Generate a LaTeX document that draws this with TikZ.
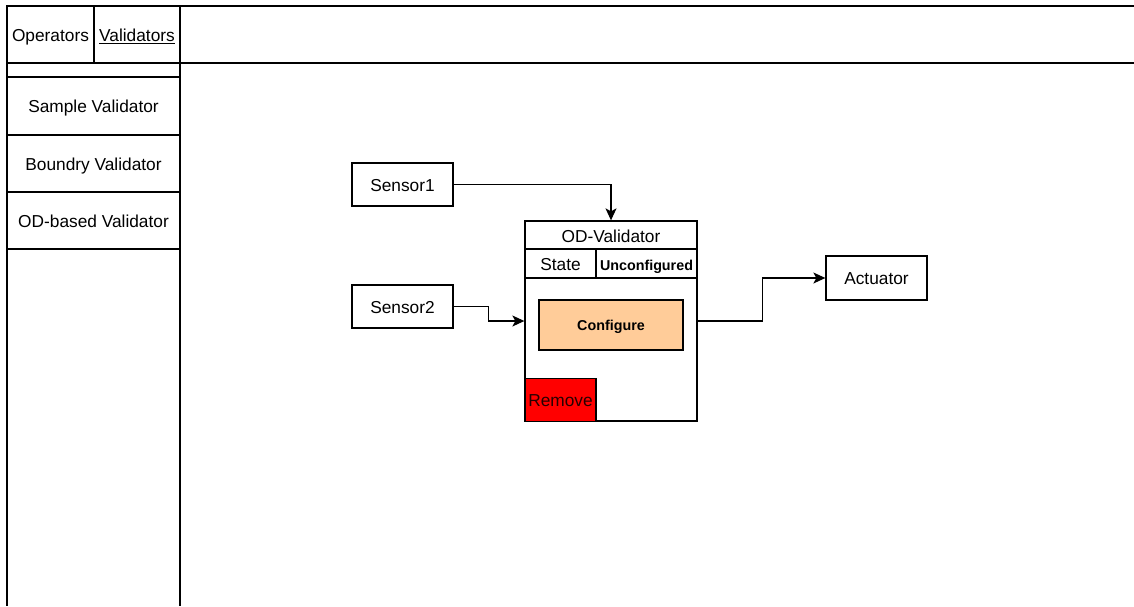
\documentclass[tikz,border=0pt]{standalone}
\usepackage{fontspec}
\setmainfont{Liberation Sans}
\usetikzlibrary{arrows.meta}
\definecolor{peach}{HTML}{FFCC99}
\definecolor{alarm}{HTML}{FF0000}
\tikzset{
  line/.style={line width=1.3pt, draw=black},
  txt/.style={font=\fontsize{17.3}{20}\selectfont, text height=13.6pt, text depth=0pt},
  smalltxt/.style={font=\fontsize{14.3}{17}\selectfont\bfseries, text height=11.2pt, text depth=0pt},
  box/.style={line, rectangle, inner sep=0pt, txt},
  label/.style={inner sep=0pt, txt},
  small/.style={inner sep=0pt, smalltxt},
  conn/.style={line width=1.2pt, draw=black, -{Stealth[length=12pt,width=11pt,inset=3pt]}},
}
\begin{document}
\begin{tikzpicture}[x=1pt,y=-1pt]
  \useasboundingbox (0,0) rectangle (1134,606);
  \fill[white] (0,0) rectangle (1134,606);

  % palette frame: tabs header and item list
  \draw[line] (1134,6) -- (7,6) -- (7,606);
  \draw[line] (180,6) -- (180,606);
  \draw[line] (94,6) -- (94,63);
  \draw[line] (7,63) -- (1134,63);
  \draw[line] (7,77) -- (180,77);
  \draw[line] (7,135) -- (180,135);
  \draw[line] (7,192) -- (180,192);
  \draw[line] (7,249) -- (180,249);

  \node[label] (tabops) at (50.5,34.5) {Operators};
  \node[label] (tabval) at (137,34.5) {\underline{Validators}};
  \node[label] (itsample) at (93.5,106) {Sample Validator};
  \node[label] (itboundry) at (93.5,163.5) {Boundry Validator};
  \node[label] (itod) at (93.5,220.5) {OD-based Validator};

  % canvas blocks
  \node[box, minimum width=101pt, minimum height=43pt] (s1) at (402.5,184.5) {Sensor1};
  \node[box, minimum width=101pt, minimum height=43pt] (s2) at (402.5,306.5) {Sensor2};
  \node[box, minimum width=101pt, minimum height=44pt] (act) at (876.5,278) {Actuator};

  % validator block with title, state row and buttons
  \node[box, minimum width=172pt, minimum height=200pt] (od) at (611,321) {};
  \draw[line] (od.west |- 0,249) -- (od.east |- 0,249);
  \draw[line] (od.west |- 0,278) -- (od.east |- 0,278);
  \draw[line] (596,249) -- (596,278);
  \node[label] (odtitle) at (611,235.5) {OD-Validator};
  \node[label] (state) at (560.5,264) {State};
  \node[small] (stval) at (646.5,264.5) {Unconfigured};
  \node[box, smalltxt, fill=peach, minimum width=144pt, minimum height=50pt] (cfg) at (611,325) {Configure};
  \node[box, fill=alarm, minimum width=71pt, minimum height=43pt, text=black!85!red] (rm) at (560.5,400) {Remove};

  % connectors
  \draw[conn] (s1.east) -| (od.north);
  \draw[conn] (s2.east) -- ++(35,0) |- (od.west);
  \draw[conn] (od.east) -- ++(65,0) |- (act.west);
\end{tikzpicture}
\end{document}
